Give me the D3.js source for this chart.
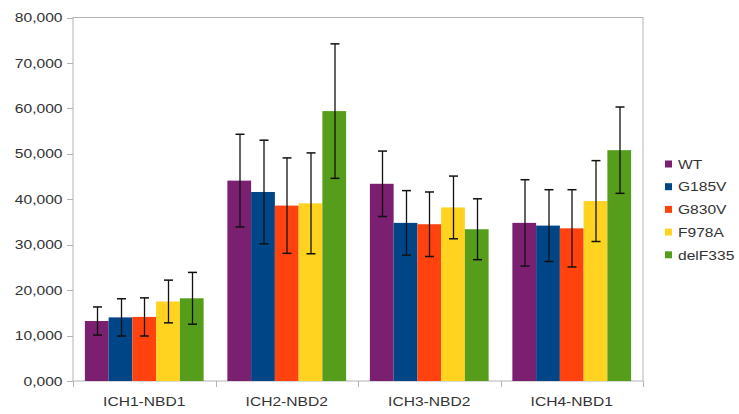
<!DOCTYPE html>
<html>
<head>
<meta charset="utf-8">
<script src="https://cdn.jsdelivr.net/npm/d3@7"></script>
<style>
  html, body { margin: 0; padding: 0; background: #fff; }
  svg { display: block; }
  text { font-family: "Liberation Sans", Arial, sans-serif; font-size: 13px; fill: #333; }
</style>
</head>
<body>
<svg id="chart" width="739" height="414"></svg>
<script>
const categories = ["ICH1-NBD1", "ICH2-NBD2", "ICH3-NBD2", "ICH4-NBD1"];
const seriesNames = ["WT", "G185V", "G830V", "F978A", "delF335"];
const seriesColors = ["#7b1f70", "#004586", "#ff420e", "#ffd320", "#579d1c"];

const valuesWT      = [13200, 44100, 43400, 34800];
const valuesG185V   = [14000, 41600, 34800, 34200];
const valuesG830V   = [14100, 38600, 34500, 33600];
const valuesF978A   = [17500, 39100, 38200, 39600];
const valuesDelF335 = [18200, 59400, 33400, 50800];

const errWT      = [3100, 10200, 7200, 9500];
const errG185V   = [4100, 11400, 7100, 7900];
const errG830V   = [4200, 10500, 7100, 8500];
const errF978A   = [4700, 11100, 6900, 8900];
const errDelF335 = [5700, 14800, 6700, 9500];

const yTickValues = [0, 10000, 20000, 30000, 40000, 50000, 60000, 70000, 80000];
const yTickLabels = ["0,000", "10,000", "20,000", "30,000", "40,000", "50,000", "60,000", "70,000", "80,000"];

const allValues = [valuesWT, valuesG185V, valuesG830V, valuesF978A, valuesDelF335];
const allErrors = [errWT, errG185V, errG830V, errF978A, errDelF335];

// text is drawn slightly wide
const SX = 1.2;

const svg = d3.select("#chart");
const plot = { left: 73, right: 643, top: 17.5, bottom: 381 };

const x0 = d3.scaleBand().domain(categories).range([plot.left, plot.right]).paddingInner(0).paddingOuter(0);
const x1 = d3.scaleBand().domain(seriesNames).range([0, x0.bandwidth()]).paddingInner(0).paddingOuter(0.5);
const y = d3.scaleLinear().domain([0, 80000]).range([plot.bottom, plot.top]);

const axisColor = "#b3b3b3";

// plot frame
svg.append("rect")
  .attr("x", plot.left).attr("y", plot.top)
  .attr("width", plot.right - plot.left).attr("height", plot.bottom - plot.top)
  .attr("fill", "none").attr("stroke", axisColor).attr("stroke-width", 1);

// y axis ticks and labels
const yAxis = svg.append("g");
yTickValues.forEach((v, i) => {
  const yy = Math.round(y(v)) + 0.5;
  yAxis.append("line")
    .attr("x1", plot.left - 6).attr("x2", plot.left)
    .attr("y1", yy).attr("y2", yy)
    .attr("stroke", axisColor);
  yAxis.append("text")
    .attr("transform", `translate(62.5,${y(v) + 4.6}) scale(${SX},1)`)
    .attr("text-anchor", "end")
    .text(yTickLabels[i]);
});

// x axis boundary ticks and category labels
const xAxis = svg.append("g");
const boundaries = categories.map(c => x0(c)).concat([x0(categories[categories.length - 1]) + x0.bandwidth()]);
boundaries.forEach(bx => {
  const xx = Math.round(bx) + 0.5;
  xAxis.append("line")
    .attr("x1", xx).attr("x2", xx)
    .attr("y1", plot.bottom).attr("y2", plot.bottom + 6)
    .attr("stroke", axisColor);
});
categories.forEach(c => {
  xAxis.append("text")
    .attr("transform", `translate(${x0(c) + x0.bandwidth() / 2},406) scale(${SX},1)`)
    .attr("text-anchor", "middle")
    .text(c);
});

// bars
const groups = svg.append("g").selectAll("g")
  .data(categories)
  .join("g")
  .attr("transform", c => `translate(${x0(c)},0)`);

groups.selectAll("rect")
  .data((c, ci) => seriesNames.map((s, si) => ({ s, si, v: allValues[si][ci], e: allErrors[si][ci] })))
  .join("rect")
  .attr("x", d => x1(d.s))
  .attr("width", x1.bandwidth())
  .attr("y", d => y(d.v))
  .attr("height", d => y(0) - y(d.v))
  .attr("fill", d => seriesColors[d.si]);

// error bars
const capW = 9;
groups.each(function (c, ci) {
  const g = d3.select(this);
  seriesNames.forEach((s, si) => {
    const v = allValues[si][ci], e = allErrors[si][ci];
    const cx = Math.round(x1(s) + x1.bandwidth() / 2) + 0.5;
    const top = y(v + e), bot = y(v - e);
    g.append("line").attr("x1", cx).attr("x2", cx).attr("y1", top).attr("y2", bot)
      .attr("stroke", "#111").attr("stroke-width", 1.3);
    [top, bot].forEach(yy => {
      g.append("line").attr("x1", cx - capW / 2).attr("x2", cx + capW / 2)
        .attr("y1", yy).attr("y2", yy)
        .attr("stroke", "#111").attr("stroke-width", 1.5);
    });
  });
});

// legend
const legend = svg.append("g");
seriesNames.forEach((s, i) => {
  const cy = 164 + i * 22.7;
  legend.append("rect")
    .attr("x", 665).attr("y", cy - 3.5)
    .attr("width", 7).attr("height", 7)
    .attr("fill", seriesColors[i]);
  legend.append("text")
    .attr("transform", `translate(678,${cy + 4.7}) scale(${SX},1)`)
    .text(s);
});
</script>
</body>
</html>
